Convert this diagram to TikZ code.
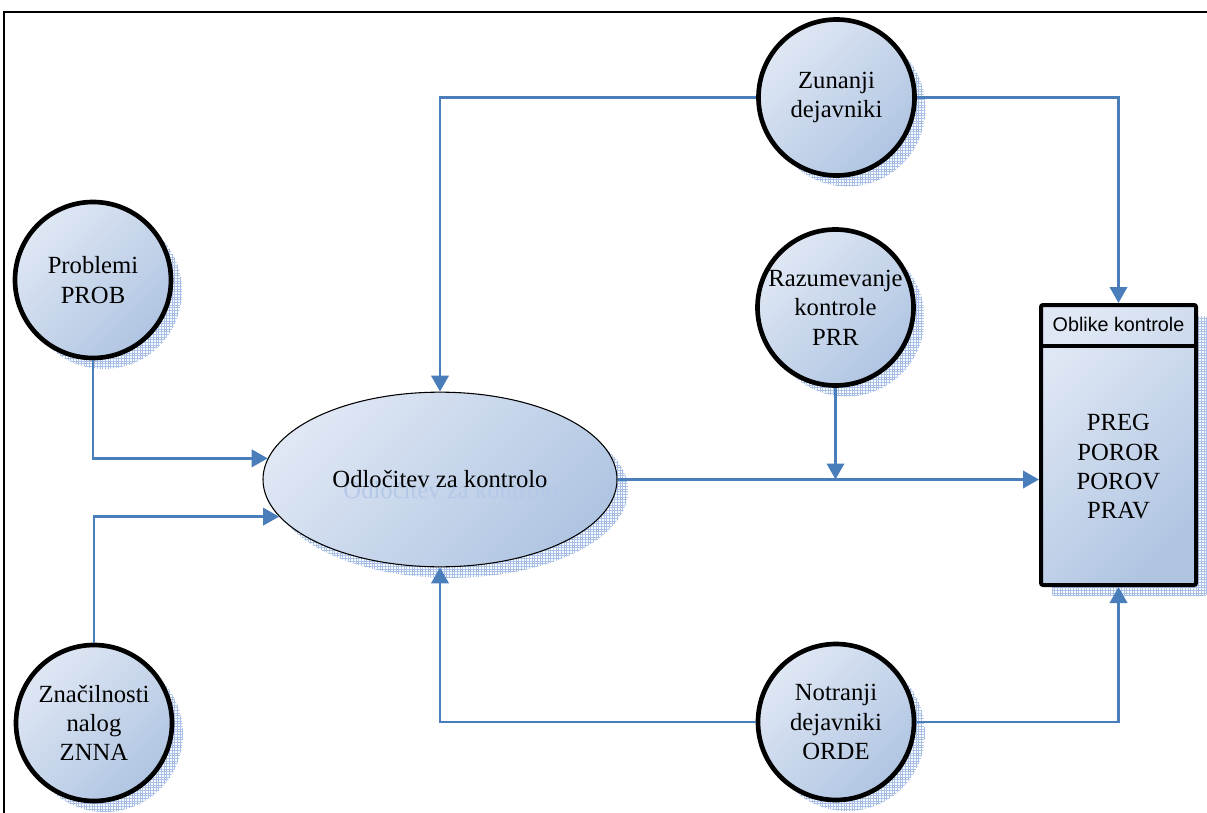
\documentclass[tikz,border=0pt]{standalone}
\usepackage{fontspec}
\setmainfont{Liberation Serif}
\newfontfamily\headsans{Liberation Sans}
\usetikzlibrary{shapes.geometric,arrows.meta,patterns,shadows}

\definecolor{linkblue}{RGB}{74,126,187}
\definecolor{filltop}{RGB}{223,231,244}
\definecolor{fillbot}{RGB}{176,197,226}
\definecolor{shadowblue}{RGB}{168,192,232}
\definecolor{ghostblue}{RGB}{180,200,232}

% a fine square grid for the soft shadows
\pgfdeclarepatternformonly{finegrid}{\pgfqpoint{-1pt}{-1pt}}{\pgfqpoint{3pt}{3pt}}{\pgfqpoint{2pt}{2pt}}{%
  \pgfsetlinewidth{0.6pt}%
  \pgfpathmoveto{\pgfqpoint{0pt}{1pt}}\pgfpathlineto{\pgfqpoint{2.01pt}{1pt}}%
  \pgfpathmoveto{\pgfqpoint{1pt}{0pt}}\pgfpathlineto{\pgfqpoint{1pt}{2.01pt}}%
  \pgfusepath{stroke}}

\begin{document}
\begin{tikzpicture}[x=0.75pt,y=-0.75pt,
  gradfill/.style={left color=filltop, right color=fillbot, shading angle=45},
  softshadow/.style={general shadow={shadow xshift=8.25pt, shadow yshift=-8.25pt,
      pattern=finegrid, pattern color=shadowblue}},
  labeltext/.style={font=\fontsize{18.5}{22}\selectfont, align=center},
  bubble/.style={circle, draw=black, line width=3.5pt, minimum size=117pt,
      inner sep=0pt, gradfill, softshadow, labeltext},
  decision/.style={ellipse, draw=black, line width=0.8pt, minimum width=265.5pt,
      minimum height=131pt, inner sep=0pt, gradfill, softshadow},
  formsbox/.style={rectangle, draw=black, line width=3pt, rounded corners=1.5pt,
      minimum width=116.25pt, minimum height=210pt, inner sep=0pt, gradfill, softshadow},
  arr/.style={draw=linkblue, line width=2pt, -{Triangle[length=12pt,width=13pt]}}
]
\useasboundingbox (0,0) rectangle (1207,813);
\clip (0,0) rectangle (1207,813);

% outer frame
\draw[line width=1.5pt] (4,830) -- (4,12) -- (1220,12);

% factor bubbles
\node[bubble] (z) at (836.5,97.5) {Zunanji\\dejavniki};
\node[bubble] (p) at (93,280) {Problemi\\PROB};
\node[bubble] (r) at (835.5,307.5) {Razumevanje\\kontrole\\PRR};
\node[bubble] (s) at (94,723) {Značilnosti\\nalog\\ZNNA};
\node[bubble] (n) at (836,722) {Notranji\\dejavniki\\ORDE};

% decision ellipse with its text shadow
\node[decision] (ell) at (440,479.5) {};
\node[labeltext, text=ghostblue, xshift=8.25pt, yshift=-8.25pt] (ellghost) at (ell.center) {Odločitev za kontrolo};
\node[labeltext] (elltext) at (ell.center) {Odločitev za kontrolo};

% forms of control box
\node[formsbox] (box) at (1118.5,445) {};
\draw[line width=3pt] ([yshift=-32.5pt]box.north west) -- ([yshift=-32.5pt]box.north east);
\node[font=\headsans\fontsize{14.8}{17}\selectfont] (head) at ([yshift=-16.3pt]box.north) {Oblike kontrole};
\node[labeltext] (forms) at (1118.5,467) {PREG\\POROR\\POROV\\PRAV};

% connectors
\draw[arr] (z.west) -| (ell.north);
\draw[arr] (z.east) -| (box.north);
\draw[arr] (p.south) |- (ell.173.2);
\draw[arr] (s.north) |- (ell.193.2);
\draw[arr] (ell.east) -- (ell.east -| box.west);
\draw[arr] (r.south) -- (r.south |- ell.east);
\draw[arr] (n.west) -| (ell.south);
\draw[arr] (n.east) -| (box.south);
\end{tikzpicture}
\end{document}
